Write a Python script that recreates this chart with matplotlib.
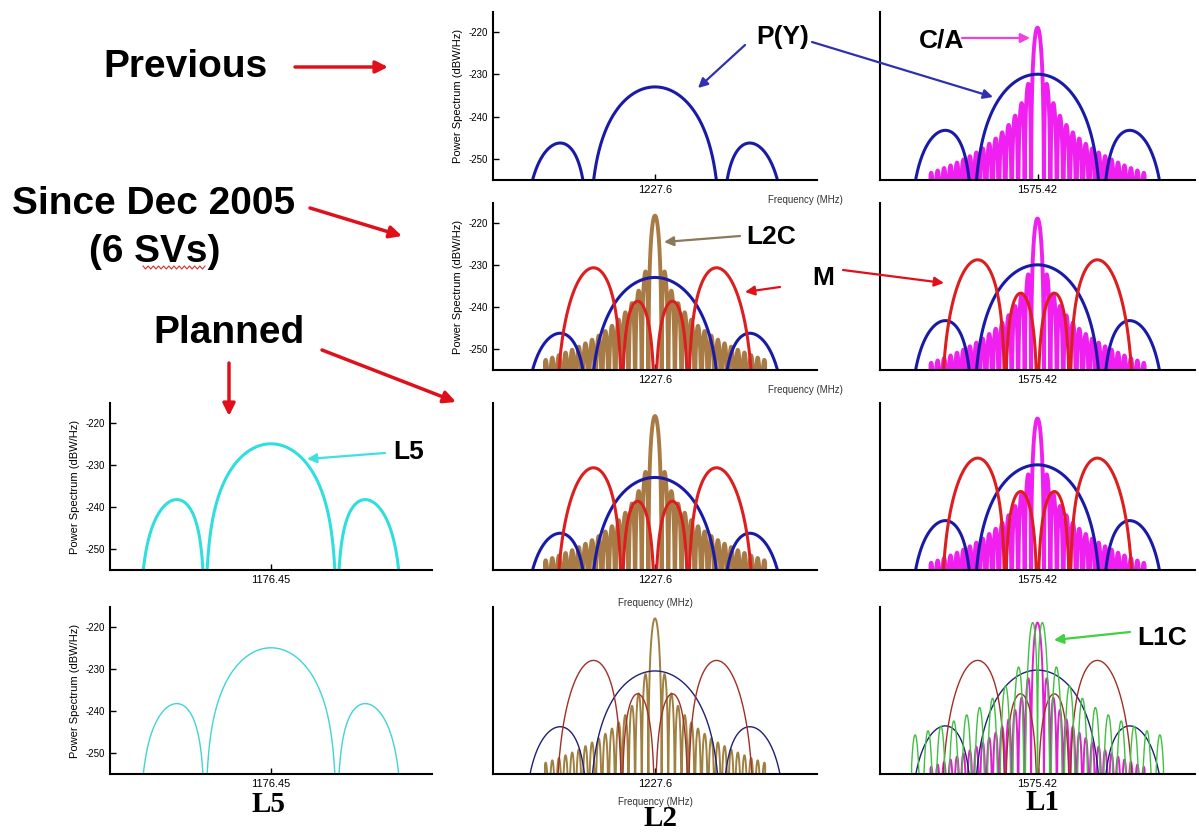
import numpy as np
import matplotlib
matplotlib.use("Agg")
import matplotlib.pyplot as plt

plt.rcParams['font.family'] = ['Liberation Sans', 'DejaVu Sans']

# signal definitions (modulation, chip rate, subcarrier, plotted bandwidth)
SIG_NAMES = ["P(Y)", "C/A", "L2C", "M", "L1C", "L5"]
SIG_MOD = ["BPSK", "BPSK", "BPSK", "BOC", "BOC", "BPSK"]
SIG_CHIP_MHZ = [10.23, 1.023, 1.023, 5.115, 1.023, 10.23]
SIG_SUB_MHZ = [0.0, 0.0, 0.0, 10.23, 1.023, 0.0]
SIG_HALF_BW_MHZ = [20.46, 17.0, 17.0, 15.4, 20.0, 20.46]

BANDS = ["L5", "L2", "L1"]
BAND_CENTER = [1176.45, 1227.6, 1575.42]

# peak levels (dBW/Hz) per row: Previous, Since Dec 2005, Planned, Planned (bottom)
L5_PEAK = [None, None, -225.0, -225.0]
L2_PY_PEAK = [-233.0, -233.0, -233.0, -230.5]
L2_M_PEAK = [None, -230.7, -230.7, -228.0]
L2_L2C_PEAK = [None, -218.3, -218.4, -218.0]
L1_PY_PEAK = [-230.0, -230.0, -230.0, -230.3]
L1_M_PEAK = [None, -228.8, -228.4, -228.0]
L1_CA_PEAK = [-219.0, -219.0, -219.0, -219.0]
L1_L1C_PEAK = [None, None, None, -219.0]

Y_TICKS = [-220, -230, -240, -250]
Y_LIM = (-255, -215.3)
SPAN_MHZ = 25.0

COLORS = {"P(Y)": "#1a1aa8", "C/A": "#f020f0", "L2C": "#a87a45",
          "M": "#dd1e1e", "L1C": "#3cc83c", "L5": "#30dede"}
COLORS_THIN = {"P(Y)": "#202078", "C/A": "#e020d0", "L2C": "#a08040",
               "M": "#a03028", "L1C": "#40c040", "L5": "#40d4d4"}


def spectrum_db(f, name, peak):
    i = SIG_NAMES.index(name)
    fc = SIG_CHIP_MHZ[i]
    if SIG_MOD[i] == "BPSK":
        g = np.sinc(f / fc) ** 2
    else:
        fs = SIG_SUB_MHZ[i]
        g = (np.sin(np.pi * f / fc) * np.tan(np.pi * f / (2 * fs)) / (np.pi * f)) ** 2
    g = g / g.max()
    db = 10 * np.log10(np.maximum(g, 1e-12)) + peak
    db[np.abs(f) > SIG_HALF_BW_MHZ[i]] = -300
    return db


fig = plt.figure(figsize=(11.99, 8.32), dpi=100)
W, H = 1199.0, 832.0

# panel boxes in pixels: left, top, right, bottom
col_x = {"L5": (110, 432), "L2": (493, 817), "L1": (880, 1195)}
row_y = [(12, 180), (203, 370), (403, 570), (607, 774)]

f = np.linspace(-SPAN_MHZ, SPAN_MHZ, 20000)

panels = {
    "L5": [("L5", L5_PEAK)],
    "L2": [("L2C", L2_L2C_PEAK), ("P(Y)", L2_PY_PEAK), ("M", L2_M_PEAK)],
    "L1": [("C/A", L1_CA_PEAK), ("P(Y)", L1_PY_PEAK), ("M", L1_M_PEAK), ("L1C", L1_L1C_PEAK)],
}

for r in range(4):
    for band in BANDS:
        sigs = [(n, p[r]) for n, p in panels[band] if p[r] is not None]
        if not sigs:
            continue
        x0, x1 = col_x[band]
        y0, y1 = row_y[r]
        ax = fig.add_axes([x0 / W, 1 - y1 / H, (x1 - x0) / W, (y1 - y0) / H])
        fc = BAND_CENTER[BANDS.index(band)]
        thin = (r == 3)
        for name, pk in sigs:
            col = COLORS_THIN[name] if thin else COLORS[name]
            lw = 1.0 if thin else 2.2
            if name in ("C/A", "L2C"):
                lw = 1.4 if thin else 2.8
            ax.plot(fc + f, spectrum_db(f, name, pk), color=col, lw=lw)
        ax.set_xlim(fc - SPAN_MHZ, fc + SPAN_MHZ)
        ax.set_ylim(*Y_LIM)
        ax.spines['top'].set_visible(False)
        ax.spines['right'].set_visible(False)
        ax.spines['left'].set_linewidth(1.5)
        ax.spines['bottom'].set_linewidth(1.5)
        ax.set_xticks([fc])
        ax.set_xticklabels([f"{fc:g}"], fontsize=8)
        ax.tick_params(axis='both', direction='in', length=4, width=1)
        show_y = (band == "L2" and r < 2) or band == "L5"
        if show_y:
            ax.set_yticks(Y_TICKS)
            ax.set_yticklabels([str(t) for t in Y_TICKS], fontsize=7)
            ax.set_ylabel("Power Spectrum (dBW/Hz)", fontsize=8, labelpad=4)
        else:
            ax.set_yticks([])
        ax.patch.set_alpha(0)

# overlay for annotations in pixel coordinates
ov = fig.add_axes([0, 0, 1, 1])
ov.set_xlim(0, W)
ov.set_ylim(H, 0)
ov.axis('off')
ov.patch.set_alpha(0)


def arrow(p0, p1, color, lw=2.0, ms=14):
    ov.annotate('', xy=p1, xytext=p0,
                arrowprops=dict(arrowstyle='-|>', color=color, lw=lw,
                                mutation_scale=ms, shrinkA=0, shrinkB=0))


big = dict(fontsize=28, fontweight='bold', ha='center', va='center')
ov.text(185, 67, "Previous", **big)
ov.text(154, 204, "Since Dec 2005", **big)
ov.text(155, 252, "(6 SVs)", **big)
ov.text(229, 333, "Planned", **big)
zx = np.linspace(143, 205, 25)
zy = np.where(np.arange(25) % 2 == 0, 266, 269)
ov.plot(zx, zy, color="#d03030", lw=0.8)

red = "#e0101a"
arrow((295, 67), (388, 67), red, 2.5, 18)
arrow((310, 208), (402, 236), red, 2.5, 18)
arrow((322, 350), (456, 402), red, 2.5, 18)
arrow((229, 363), (229, 416), red, 2.5, 18)

lab = dict(fontsize=19, fontweight='bold', ha='center', va='center')
ov.text(783, 37, "P(Y)", **lab)
arrow((745, 45), (698, 88), "#3030b0", 1.6)
arrow((812, 42), (993, 97), "#3030b0", 1.6)
ov.text(942, 40, "C/A", **lab)
arrow((962, 38), (1030, 38), "#f040e0", 1.6)
ov.text(771, 237, "L2C", **lab)
arrow((740, 236), (664, 242), "#8b7a5a", 1.6)
ov.text(823, 278, "M", **lab)
arrow((780, 287), (745, 292), red, 1.6)
arrow((843, 270), (944, 283), red, 1.6)
ov.text(409, 452, "L5", **lab)
arrow((385, 453), (307, 459), "#40e0e0", 1.6)
ov.text(1162, 638, "L1C", **lab)
arrow((1130, 632), (1054, 640), "#40d040", 1.6)

fq = dict(fontsize=7, ha='center', va='center', color="#333333")
ov.text(805, 200, "Frequency (MHz)", **fq)
ov.text(805, 390, "Frequency (MHz)", **fq)
ov.text(655, 603, "Frequency (MHz)", **fq)
ov.text(655, 802, "Frequency (MHz)", **fq)

bot = dict(fontsize=21, fontweight='bold', ha='center', va='center',
           family=['Liberation Serif', 'DejaVu Serif'])
ov.text(268, 804, "L5", **bot)
ov.text(660, 819, "L2", **bot)
ov.text(1042, 802, "L1", **bot)

fig.savefig("out.png", dpi=100)
